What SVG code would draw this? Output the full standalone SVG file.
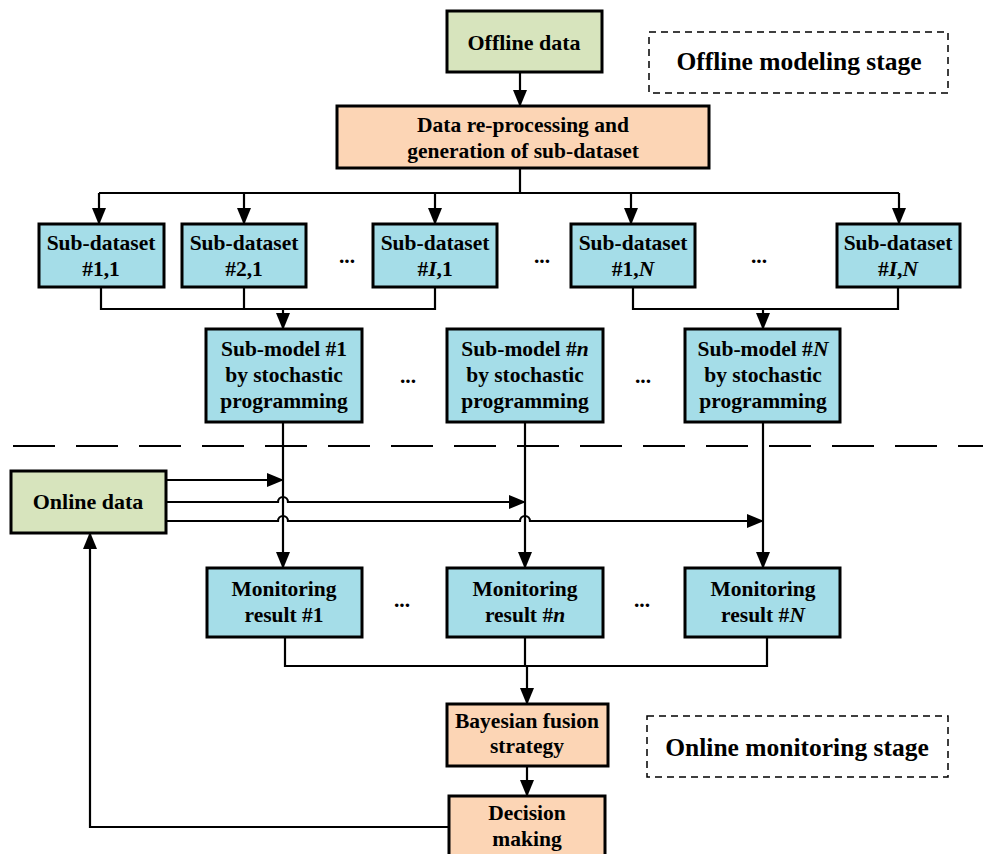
<svg xmlns="http://www.w3.org/2000/svg" width="983" height="854" viewBox="0 0 983 854">
<defs>
<marker id="ah" markerUnits="userSpaceOnUse" markerWidth="18" markerHeight="16" refX="16" refY="7" orient="auto">
<path d="M0,0 L17,7 L0,14 Z" fill="#000"/>
</marker>
<style>
.box{stroke:#000;stroke-width:3}
.g{fill:#d7e4bd}
.o{fill:#fcd5b5}
.b{fill:#a5dde8}
.dash{fill:none;stroke:#000;stroke-width:1.5;stroke-dasharray:7,5}
text{font-family:"Liberation Serif","Times New Roman",serif;font-weight:bold;font-size:21.5px;text-anchor:middle;fill:#000}
.ln{fill:none;stroke:#000;stroke-width:2.2}
.arr{fill:none;stroke:#000;stroke-width:2.2;marker-end:url(#ah)}
</style>
</defs>
<rect width="983" height="854" fill="#fff"/>

<g id="connectors">
<path class="arr" d="M520,72 V106"/>
<path class="ln" d="M520,168 V193 M99,193 H899"/>
<path class="arr" d="M99,193 V224"/>
<path class="arr" d="M244,193 V224"/>
<path class="arr" d="M435,193 V224"/>
<path class="arr" d="M631,193 V224"/>
<path class="arr" d="M899,193 V224"/>
<path class="ln" d="M101,287 V309 H435 V287 M244,287 V309"/>
<path class="arr" d="M283,309 V329"/>
<path class="ln" d="M633,287 V309 H898 V287"/>
<path class="arr" d="M763,309 V329"/>
<path class="arr" d="M283,422 V568"/>
<path class="arr" d="M525,422 V568"/>
<path class="arr" d="M763,422 V568"/>
<path class="arr" d="M166,480 H283"/>
<path class="arr" d="M166,502 H278 A5,5 0 0 1 288,502 H525"/>
<path class="arr" d="M166,521 H278 A5,5 0 0 1 288,521 H520 A5,5 0 0 1 530,521 H763"/>
<path class="ln" d="M285,637 V666 H767 V637 M525,637 V666"/>
<path class="arr" d="M527,666 V704"/>
<path class="arr" d="M527,766 V796"/>
<path class="arr" d="M449,827 H90 V533"/>
<path d="M13,446 H983" fill="none" stroke="#000" stroke-width="2" stroke-dasharray="42,21"/>
</g>

<g id="offline-data"><rect class="box g" x="447" y="11" width="155" height="61"/><text x="524" y="50" style="font-size:22px">Offline data</text></g>
<g id="offline-stage"><rect class="dash" x="649" y="32" width="299" height="61"/><text x="799" y="70" style="font-size:25.5px">Offline modeling stage</text></g>
<g id="preprocess"><rect class="box o" x="337" y="106" width="372" height="62"/><text x="523" y="132">Data re-processing and</text><text x="523" y="158">generation of sub-dataset</text></g>

<g id="sd11"><rect class="box b" x="39" y="224" width="125" height="63"/><text x="101" y="250">Sub-dataset</text><text x="101" y="276">#1,1</text></g>
<g id="sd21"><rect class="box b" x="182" y="224" width="124" height="63"/><text x="244" y="250">Sub-dataset</text><text x="244" y="276">#2,1</text></g>
<g id="sdI1"><rect class="box b" x="373" y="224" width="124" height="63"/><text x="435" y="250">Sub-dataset</text><text x="435" y="276">#<tspan font-style="italic">I</tspan>,1</text></g>
<g id="sd1N"><rect class="box b" x="571" y="224" width="124" height="63"/><text x="633" y="250">Sub-dataset</text><text x="633" y="276">#1,<tspan font-style="italic">N</tspan></text></g>
<g id="sdIN"><rect class="box b" x="837" y="224" width="123" height="63"/><text x="898" y="250">Sub-dataset</text><text x="898" y="276">#<tspan font-style="italic">I</tspan>,<tspan font-style="italic">N</tspan></text></g>
<g id="dots1"><text x="347" y="263">...</text><text x="542" y="263">...</text><text x="759" y="263">...</text></g>

<g id="sm1"><rect class="box b" x="206" y="329" width="156" height="93"/><text x="284" y="356">Sub-model #1</text><text x="284" y="382">by stochastic</text><text x="284" y="408">programming</text></g>
<g id="smn"><rect class="box b" x="447" y="329" width="156" height="93"/><text x="525" y="356">Sub-model #<tspan font-style="italic">n</tspan></text><text x="525" y="382">by stochastic</text><text x="525" y="408">programming</text></g>
<g id="smN"><rect class="box b" x="685" y="329" width="155" height="93"/><text x="763" y="356">Sub-model #<tspan font-style="italic">N</tspan></text><text x="763" y="382">by stochastic</text><text x="763" y="408">programming</text></g>
<g id="dots2"><text x="408" y="383">...</text><text x="643" y="383">...</text></g>

<g id="online-data"><rect class="box g" x="11" y="471" width="155" height="62"/><text x="88" y="509" style="font-size:22px">Online data</text></g>

<g id="mr1"><rect class="box b" x="207" y="568" width="155" height="69"/><text x="284" y="596">Monitoring</text><text x="284" y="622">result #1</text></g>
<g id="mrn"><rect class="box b" x="447" y="568" width="156" height="69"/><text x="525" y="596">Monitoring</text><text x="525" y="622">result #<tspan font-style="italic">n</tspan></text></g>
<g id="mrN"><rect class="box b" x="685" y="568" width="155" height="69"/><text x="763" y="596">Monitoring</text><text x="763" y="622">result #<tspan font-style="italic">N</tspan></text></g>
<g id="dots3"><text x="402" y="607">...</text><text x="642" y="607">...</text></g>

<g id="bayes"><rect class="box o" x="447" y="704" width="161" height="62"/><text x="527" y="728">Bayesian fusion</text><text x="527" y="753">strategy</text></g>
<g id="online-stage"><rect class="dash" x="647" y="716" width="301" height="61"/><text x="797" y="756" style="font-size:25.5px">Online monitoring stage</text></g>
<g id="decision"><rect class="box o" x="449" y="796" width="156" height="80"/><text x="527" y="820">Decision</text><text x="527" y="846">making</text></g>
</svg>
